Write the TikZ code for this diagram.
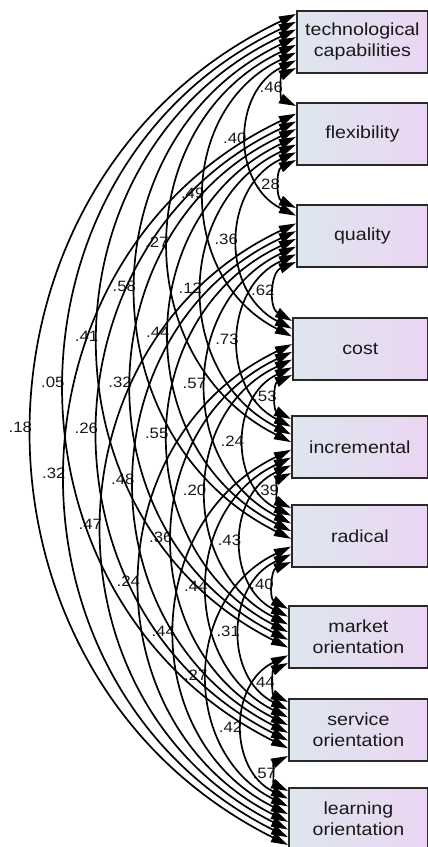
\documentclass[tikz,border=0pt]{standalone}
\usepackage{fontspec}
\setmainfont{Liberation Sans}[FakeStretch=1.12]
\usetikzlibrary{arrows.meta,calc}

\definecolor{boxleft}{RGB}{222,230,238}
\definecolor{boxright}{RGB}{235,213,242}
\definecolor{boxline}{RGB}{40,40,40}
\definecolor{ink}{RGB}{25,25,25}

\tikzset{
  varbox/.style={draw=boxline, line width=1.8pt, left color=boxleft, right color=boxright,
    anchor=north west, minimum height=62pt, inner sep=0pt, align=center, text=ink,
    font=\fontsize{17.5}{21}\selectfont},
  cov/.style={line width=1.7pt, draw=black,
    {Triangle[length=17pt,width=10pt]}-{Triangle[length=17pt,width=10pt]}},
  covlabel/.style={anchor=east, inner sep=1pt, text=ink, font=\fontsize{15}{16}\selectfont},
}

\begin{document}
\begin{tikzpicture}[x=1pt, y=-1pt]
\useasboundingbox (0,0) rectangle (428,847);

% observed variables
\node[varbox, minimum width=131pt] (b1) at (296,10)  {technological\\capabilities};
\node[varbox, minimum width=131pt] (b2) at (296,102) {flexibility};
\node[varbox, minimum width=131pt] (b3) at (296,204) {quality};
\node[varbox, minimum width=135pt] (b4) at (292,317) {cost};
\node[varbox, minimum width=136pt] (b5) at (291,415) {incremental};
\node[varbox, minimum width=136pt] (b6) at (291,504) {radical};
\node[varbox, minimum width=139pt] (b7) at (288,605) {market\\orientation};
\node[varbox, minimum width=139pt] (b8) at (288,698) {service\\orientation};
\node[varbox, minimum width=139pt] (b9) at (288,787) {learning\\orientation};

% attachment points: on box i, links upward first (nearest on top),
% then links downward (farthest first)
\foreach \i in {1,...,9} {
  \foreach \j in {1,...,9} {
    \ifnum\i=\j\else
      \ifnum\j<\i
        \pgfmathtruncatemacro\slot{\i-1-\j}
      \else
        \pgfmathtruncatemacro\slot{(\i-1)+(9-\j)}
      \fi
      \coordinate (p\i-\j) at ($(b\i.north west)+(0,4+\slot*7.714)$);
    \fi
  }
}

\def\covlist{1/2/.46, 2/3/.28, 3/4/.62, 4/5/.53, 5/6/.39, 6/7/.40, 7/8/.44, 8/9/.57,
  1/3/.40, 2/4/.36, 3/5/.73, 4/6/.24, 5/7/.43, 6/8/.31, 7/9/.42,
  1/4/.49, 2/5/.12, 3/6/.57, 4/7/.20, 5/8/.44, 6/9/.27,
  1/5/.27, 2/6/.44, 3/7/.55, 4/8/.36, 5/9/.44,
  1/6/.58, 2/7/.32, 3/8/.48, 4/9/.24,
  1/7/.41, 2/8/.26, 3/9/.47,
  1/8/.05, 2/9/.32,
  1/9/.18}

% covariance values
\foreach \i/\j/\v in \covlist {
  \path (p\i-\j) to[bend right=64, looseness=1.18] node[covlabel, midway]{\v} (p\j-\i);
}

% covariance arcs
\foreach \i/\j/\v in \covlist {
  \draw[cov] (p\i-\j) to[bend right=64, looseness=1.18] (p\j-\i);
}
\end{tikzpicture}
\end{document}
